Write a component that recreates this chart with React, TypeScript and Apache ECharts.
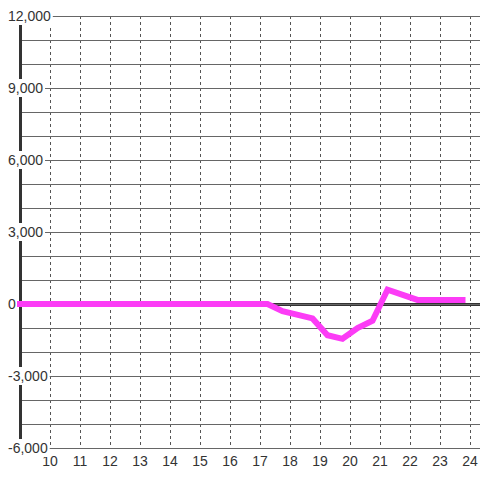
import React, { useEffect, useRef } from "react";
import * as echarts from "echarts";

const hours = [9, 17.25, 17.75, 18.75, 19.25, 19.75, 20.25, 20.75, 21.25, 22.25, 23.75];
const values = [0, 0, -300, -600, -1300, -1450, -1000, -700, 600, 170, 170];
const xMin = 9;
const xMax = 24.3333;
const yMin = -6000;
const yMax = 12000;
const yLabelStep = 3000;

const FONT = "'Liberation Sans', Arial, sans-serif";

export default function App() {
  const ref = useRef<HTMLDivElement>(null);
  useEffect(() => {
    if (!ref.current) return;
    const chart = echarts.init(ref.current, undefined, { renderer: "svg" });
    const data = hours.map((h, i) => [h, values[i]]);
    chart.setOption({
      animation: false,
      backgroundColor: "#ffffff",
      textStyle: { fontFamily: FONT },
      grid: { left: 20, right: 0, top: 16, bottom: 32, containLabel: false, outerBoundsMode: "none" },
      xAxis: [
        {
          type: "value",
          min: xMin,
          max: xMax,
          interval: 1,
          position: "bottom",
          axisLine: { show: true, onZero: true, lineStyle: { color: "#333333", width: 3 } },
          axisTick: { show: false },
          axisLabel: { show: false },
          splitLine: {
            show: true,
            showMinLine: false,
            showMaxLine: false,
            lineStyle: { color: "#555555", width: 1, type: [3, 3] },
          },
          z: 1,
        },
        {
          type: "value",
          min: xMin,
          max: xMax,
          interval: 1,
          position: "bottom",
          axisLine: { show: true, onZero: false, lineStyle: { color: "#666666", width: 1 } },
          axisTick: { show: false },
          splitLine: { show: false },
          axisLabel: {
            show: true,
            showMinLabel: false,
            showMaxLabel: false,
            margin: 6,
            color: "#333333",
            fontSize: 14,
            fontFamily: FONT,
          },
        },
      ],
      yAxis: {
        type: "value",
        min: yMin,
        max: yMax,
        interval: yLabelStep,
        axisLine: { show: true, onZero: false, lineStyle: { color: "#333333", width: 3 } },
        axisTick: { show: false },
        minorTick: { show: false, splitNumber: 3 },
        splitLine: { show: true, lineStyle: { color: "#666666", width: 1 } },
        minorSplitLine: { show: true, lineStyle: { color: "#666666", width: 1 } },
        axisLabel: {
          show: true,
          align: "left",
          margin: 14,
          color: "#333333",
          fontSize: 14,
          fontFamily: FONT,
          backgroundColor: "#ffffff",
          padding: [2, 2, 2, 2],
          formatter: (v: number) => v.toLocaleString("en-US"),
        },
        z: 3,
      },
      series: [
        {
          type: "line",
          xAxisIndex: 0,
          data,
          symbol: "none",
          lineStyle: { color: "#fc3cf6", width: 6, cap: "square", join: "miter" },
          z: 5,
        },
      ],
    });
    return () => chart.dispose();
  }, []);
  return (
    <div
      ref={ref}
      style={{ position: "fixed", left: 0, top: 0, width: 480, height: 480 }}
    />
  );
}
